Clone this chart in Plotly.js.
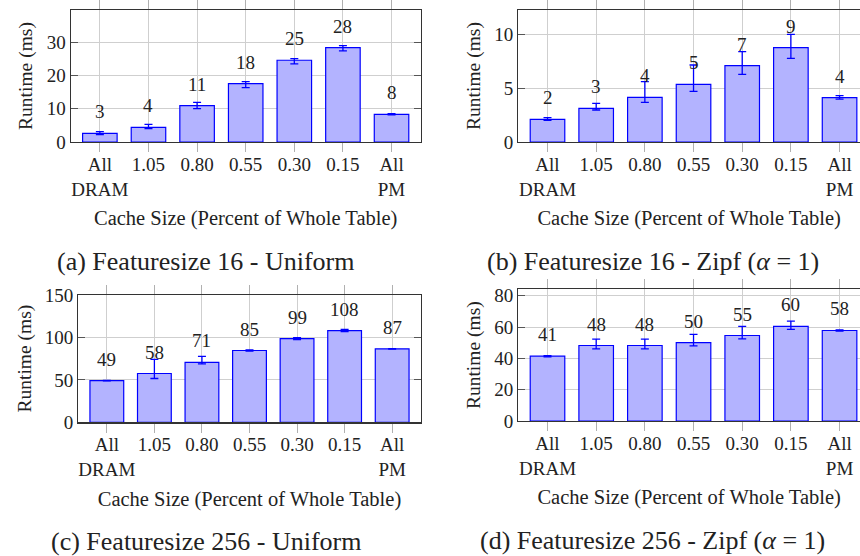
<!DOCTYPE html>
<html>
<head>
<meta charset="utf-8">
<script src="https://cdn.plot.ly/plotly-3.0.1.min.js"></script>
<style>
html,body{margin:0;padding:0;background:#fff;}
#chart{width:860px;height:556px;}
svg text{font-family:'Liberation Serif' !important;}
#fontwarm{position:absolute;left:-10000px;top:0;font-family:'Liberation Serif';font-size:20px;}
#fontwarm::before{content:"Aa1";}
</style>
</head>
<body>
<div id="fontwarm" aria-hidden="true"></div>
<div id="chart"></div>
<script>
// ---------- data ----------
const categories = ['All<br>DRAM', '1.05', '0.80', '0.55', '0.30', '0.15', 'All<br>PM'];

// (a) Featuresize 16 - Uniform
const aMean  = [2.61, 4.41, 10.94, 17.56, 24.58, 28.39, 8.33];
const aUpper = [3.11, 5.32, 11.94, 18.16, 25.08, 29.00, 8.53];
const aLower = [2.20, 4.00, 10.03, 16.35, 23.48, 27.39, 8.13];
const aLabels = ['3', '4', '11', '18', '25', '28', '8'];

// (b) Featuresize 16 - Zipf (alpha = 1)
const bMean  = [2.11, 3.13, 4.15, 5.36, 7.09, 8.76, 4.12];
const bUpper = [2.26, 3.59, 5.60, 7.15, 8.39, 10.00, 4.30];
const bLower = [2.01, 2.97, 3.68, 4.71, 6.28, 7.77, 3.99];
const bLabels = ['2', '3', '4', '5', '7', '9', '4'];

// (c) Featuresize 256 - Uniform
const cMean  = [49.2, 57.5, 70.6, 84.6, 98.6, 108.1, 86.6];
const cUpper = [49.5, 74.2, 77.7, 85.4, 99.6, 109.4, 86.9];
const cLower = [48.9, 51.6, 68.8, 83.8, 97.4, 106.8, 86.3];
const cLabels = ['49', '58', '71', '85', '99', '108', '87'];

// (d) Featuresize 256 - Zipf (alpha = 1)
const dMean  = [41.4, 48.2, 48.2, 50.1, 54.6, 60.4, 57.8];
const dUpper = [41.8, 52.3, 52.3, 55.3, 60.4, 63.8, 58.2];
const dLower = [41.0, 46.1, 46.1, 48.0, 52.5, 58.5, 57.4];
const dLabels = ['41', '48', '48', '50', '55', '60', '58'];

const captions = [
  '(a) Featuresize 16 - Uniform',
  '(b) Featuresize 16 - Zipf (<i>α</i> = 1)',
  '(c) Featuresize 256 - Uniform',
  '(d) Featuresize 256 - Zipf (<i>α</i> = 1)'
];
const xTitle = 'Cache Size (Percent of Whole Table)';
const yTitle = 'Runtime (ms)';

// ---------- build ----------
const FONT = 'Liberation Serif';
const panels = [
  {mean: aMean, up: aUpper, lo: aLower, lab: aLabels, xa: 'x',  ya: 'y',  yr: [0, 39.7], dt: 10},
  {mean: bMean, up: bUpper, lo: bLower, lab: bLabels, xa: 'x2', ya: 'y2', yr: [0, 12.26], dt: 5},
  {mean: cMean, up: cUpper, lo: cLower, lab: cLabels, xa: 'x3', ya: 'y3', yr: [0, 150], dt: 50},
  {mean: dMean, up: dUpper, lo: dLower, lab: dLabels, xa: 'x4', ya: 'y4', yr: [0, 84.1], dt: 20}
];

const traces = [];
const annotations = [];
panels.forEach((p, i) => {
  traces.push({
    type: 'bar',
    x: categories,
    y: p.mean,
    xaxis: p.xa, yaxis: p.ya,
    width: 0.71,
    marker: {color: '#b3b3ff', line: {color: '#0000ff', width: 1.2}},
    error_y: {
      type: 'data', symmetric: false,
      array: p.up.map((u, k) => u - p.mean[k]),
      arrayminus: p.mean.map((m, k) => m - p.lo[k]),
      color: '#0000ff', thickness: 1.3, width: 4
    },
    hoverinfo: 'skip'
  });
  p.lab.forEach((t, k) => {
    annotations.push({
      x: k, y: p.mean[k], xref: p.xa, yref: p.ya,
      text: t, showarrow: false, yanchor: 'middle', yshift: 21.5,
      font: {family: FONT, size: 19, color: '#222'}
    });
  });
});

// sub-captions
const capPos = [[205, 261.7], [653, 261.7], [205.5, 541.5], [652, 540.5]];
captions.forEach((c, i) => {
  annotations.push({
    x: capPos[i][0] / 860, y: 1 - capPos[i][1] / 556, xref: 'paper', yref: 'paper',
    text: c, showarrow: false, xanchor: 'center', yanchor: 'middle',
    font: {family: FONT, size: 26, color: '#222'}
  });
});

function xAxis(domain, anchor, range) {
  return {
    domain: domain, anchor: anchor, type: 'category', range: range,
    showline: true, linecolor: '#333', linewidth: 1.2, mirror: 'ticks',
    ticks: 'outside', ticklen: 9, tickcolor: '#b0b0b0', tickwidth: 1,
    ticklabelstandoff: -4,
    showgrid: true, gridcolor: '#cfcfcf', gridwidth: 1,
    tickfont: {family: FONT, size: 19, color: '#222'},
    title: {text: xTitle, font: {family: FONT, size: 20.5, color: '#222'}, standoff: 12},
    zeroline: false, fixedrange: true
  };
}
function yAxis(domain, anchor, range, dt, mirror) {
  return {
    domain: domain, anchor: anchor, range: range, dtick: dt, tick0: 0,
    showline: true, linecolor: '#333', linewidth: 1.2, mirror: mirror ? 'ticks' : false,
    ticks: 'inside', ticklen: 7, tickcolor: '#555', tickwidth: 1,
    showgrid: true, gridcolor: '#cfcfcf', gridwidth: 1,
    tickfont: {family: FONT, size: 19, color: '#222'},
    title: {text: yTitle, font: {family: FONT, size: 19.5, color: '#222'}, standoff: 8},
    zeroline: false, fixedrange: true
  };
}

const xdA = [70.7 / 860, 420.7 / 860];
const xdB = [518.3 / 860, 1];
const xdC = [78.3 / 860, 420.7 / 860];
const ydTop = [1 - 142 / 556, 1 - 10 / 556];
const ydC = [1 - 422.3 / 556, 1 - 295 / 556];
const ydD = [1 - 421 / 556, 1 - 289.3 / 556];

const layout = {
  width: 860, height: 556,
  margin: {l: 0, r: 0, t: 0, b: 0},
  paper_bgcolor: '#ffffff', plot_bgcolor: '#ffffff',
  showlegend: false,
  font: {family: FONT, size: 19, color: '#222'},
  xaxis:  xAxis(xdA, 'y',  [-0.6, 6.6]),
  yaxis:  yAxis(ydTop, 'x',  panels[0].yr, panels[0].dt, true),
  xaxis2: xAxis(xdB, 'y2', [-0.6, 6.42]),
  yaxis2: yAxis(ydTop, 'x2', panels[1].yr, panels[1].dt, false),
  xaxis3: xAxis(xdC, 'y3', [-0.6, 6.6]),
  yaxis3: yAxis(ydC, 'x3', panels[2].yr, panels[2].dt, true),
  xaxis4: xAxis(xdB, 'y4', [-0.6, 6.42]),
  yaxis4: yAxis(ydD, 'x4', panels[3].yr, panels[3].dt, false),
  annotations: annotations
};

Plotly.newPlot('chart', traces, layout, {staticPlot: true, displayModeBar: false});
</script>
</body>
</html>
